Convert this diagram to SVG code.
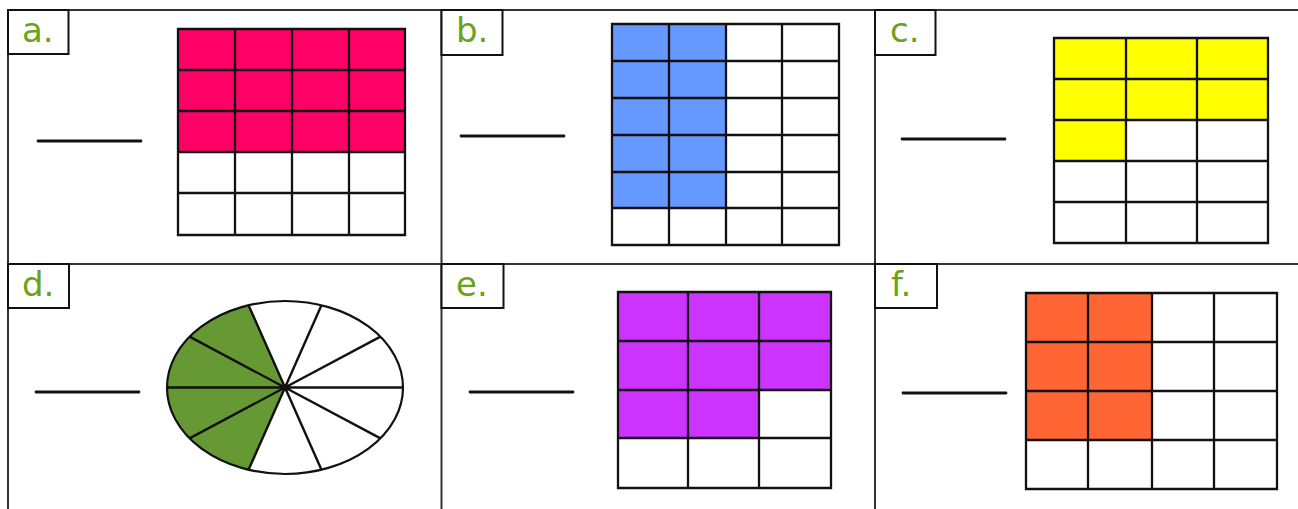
<svg xmlns="http://www.w3.org/2000/svg" width="1298" height="509" viewBox="0 0 1298 509">
<style>
  .frame { stroke: #333; stroke-width: 2; fill: none; }
  .lbox { fill: #fff; stroke: #111; stroke-width: 2; }
  .lbl { font-family: "DejaVu Sans", "Liberation Sans", sans-serif; font-size: 34px; fill: #6aa318; }
  .blank { stroke: #111; stroke-width: 2.8; stroke-linecap: round; }
  .grid { stroke: #111; stroke-width: 2.3; fill: none; }
  .spoke { stroke: #111; stroke-width: 2.4; }
</style>
<rect width="1298" height="509" fill="#fff"/>
<g id="frame">
  <line class="frame" x1="8" y1="10" x2="1298" y2="10"/>
  <line class="frame" x1="8" y1="10" x2="8" y2="509" stroke-width="2.5"/>
  <line class="frame" x1="441.5" y1="10" x2="441.5" y2="509"/>
  <line class="frame" x1="875" y1="10" x2="875" y2="509"/>
  <line class="frame" x1="8" y1="264" x2="1298" y2="264"/>
</g>
<g id="panel-a">
  <rect class="lbox" x="8" y="10" width="60.5" height="44"/>
  <text class="lbl" x="22" y="42">a.</text>
  <line class="blank" x1="38" y1="141" x2="141" y2="141"/>
  <rect x="178" y="29" width="227" height="123" fill="#ff0066"/>
  <path class="grid" d="M178,29H405V235H178Z M235,29V235 M292,29V235 M349,29V235 M178,70H405 M178,111H405 M178,152H405 M178,193H405"/>
</g>
<g id="panel-b">
  <rect class="lbox" x="441.5" y="10" width="61" height="45"/>
  <text class="lbl" x="456" y="42">b.</text>
  <line class="blank" x1="461" y1="136" x2="564" y2="136"/>
  <rect x="612" y="24" width="114" height="184" fill="#6699ff"/>
  <path class="grid" d="M612,24H839V245H612Z M669,24V245 M726,24V245 M782,24V245 M612,61H839 M612,98H839 M612,135H839 M612,172H839 M612,208H839"/>
</g>
<g id="panel-c">
  <rect class="lbox" x="875" y="10" width="60.5" height="45"/>
  <text class="lbl" x="890" y="42">c.</text>
  <line class="blank" x1="902" y1="139" x2="1005" y2="139"/>
  <path d="M1054,38H1268V120H1126V161H1054Z" fill="#ffff00"/>
  <path class="grid" d="M1054,38H1268V243H1054Z M1126,38V243 M1197,38V243 M1054,79H1268 M1054,120H1268 M1054,161H1268 M1054,202H1268"/>
</g>
<g id="panel-d">
  <rect class="lbox" x="8" y="264" width="61" height="44"/>
  <text class="lbl" x="22" y="296">d.</text>
  <line class="blank" x1="36" y1="392" x2="139" y2="392"/>
  <path d="M285,387.5 L248.54,469.76 A118,86.5 0 0 1 248.54,305.24 Z" fill="#669933"/>
  <ellipse cx="285" cy="387.5" rx="118" ry="86.5" fill="none" stroke="#111" stroke-width="2.2"/>
  <path class="spoke" d="M167,387.5H403 M248.54,305.24L321.46,469.76 M321.46,305.24L248.54,469.76 M380.46,336.65L189.54,438.35 M189.54,336.65L380.46,438.35"/>
  <circle cx="285" cy="387.5" r="3" fill="#111"/>
</g>
<g id="panel-e">
  <rect class="lbox" x="441.5" y="264" width="62" height="44"/>
  <text class="lbl" x="456" y="296">e.</text>
  <line class="blank" x1="470" y1="392" x2="573" y2="392"/>
  <path d="M618,292H831V390H759V438H618Z" fill="#cc33ff"/>
  <path class="grid" d="M618,292H831V488H618Z M688,292V488 M759,292V488 M618,341H831 M618,390H831 M618,438H831"/>
</g>
<g id="panel-f">
  <rect class="lbox" x="875" y="264" width="62" height="44"/>
  <text class="lbl" x="891" y="296">f.</text>
  <line class="blank" x1="903" y1="393" x2="1006" y2="393"/>
  <rect x="1026" y="293" width="126" height="147" fill="#ff6633"/>
  <path class="grid" d="M1026,293H1277V489H1026Z M1088,293V489 M1152,293V489 M1214,293V489 M1026,342H1277 M1026,391H1277 M1026,440H1277"/>
</g>
</svg>
